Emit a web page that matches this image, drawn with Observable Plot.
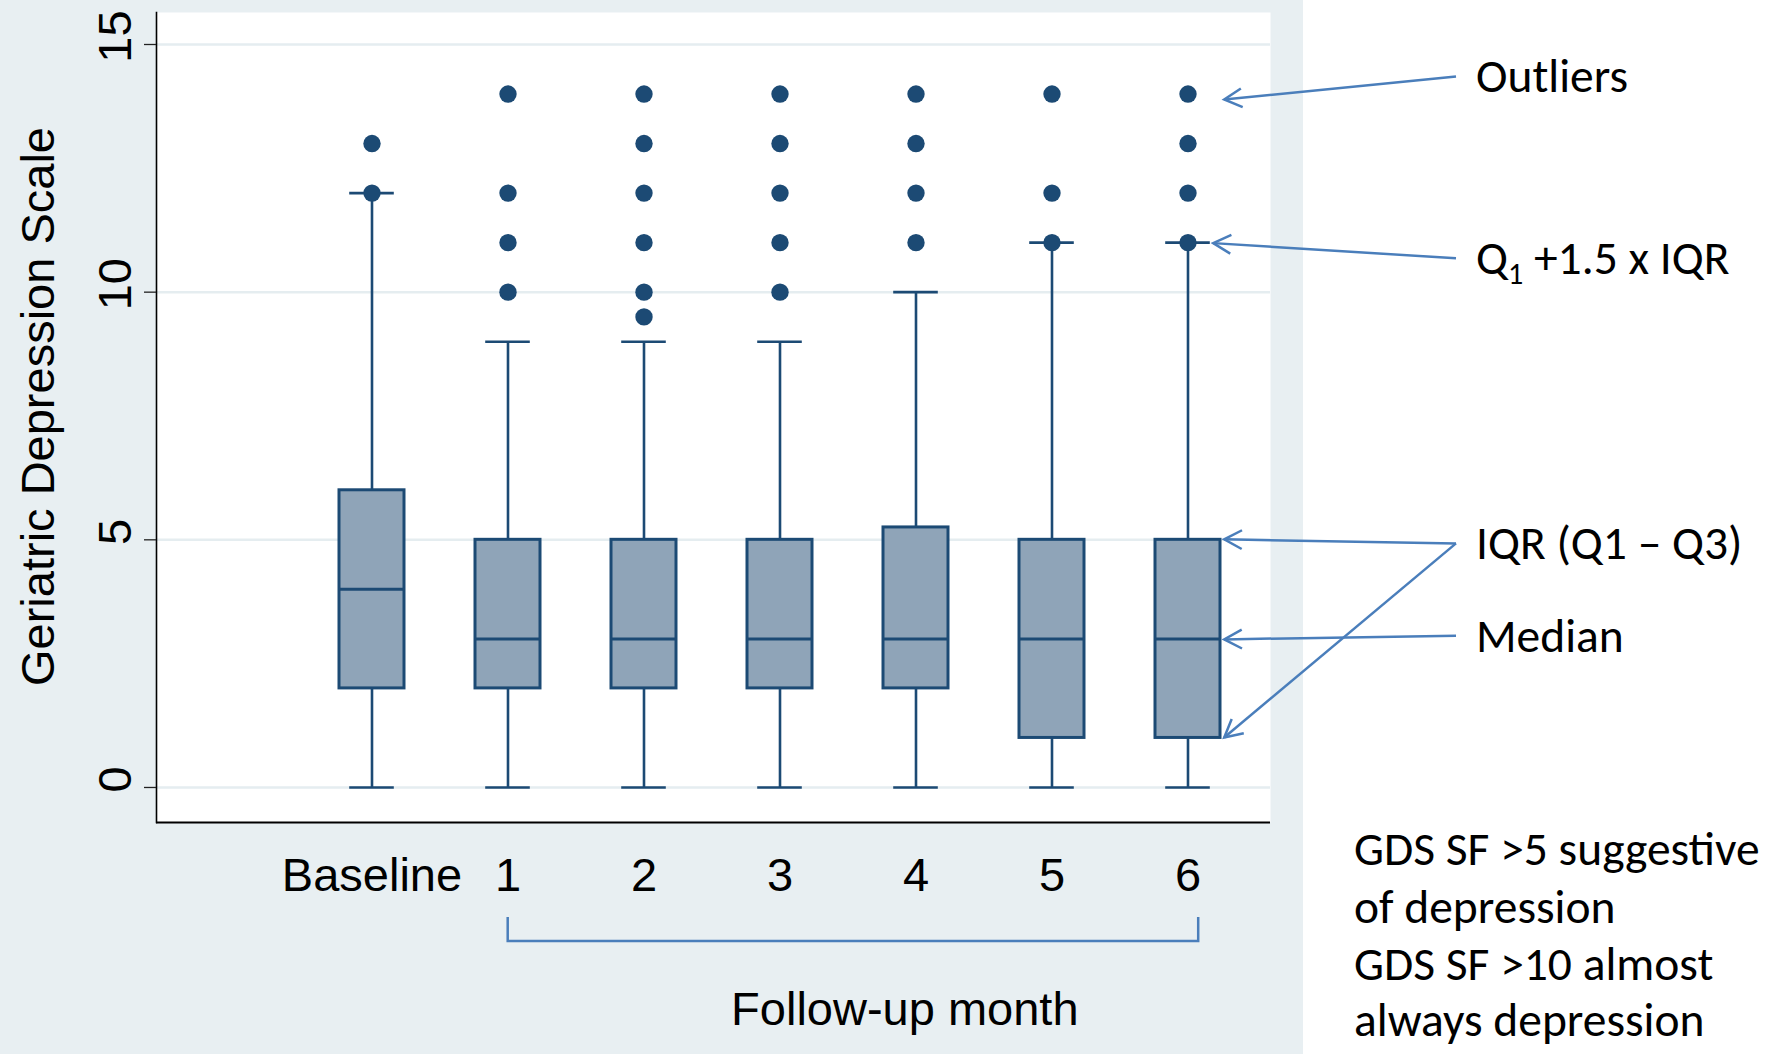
<!DOCTYPE html>
<html><head><meta charset="utf-8">
<script src="https://cdn.jsdelivr.net/npm/d3@7"></script>
<script src="https://cdn.jsdelivr.net/npm/@observablehq/plot@0.6"></script>
<style>
html,body{margin:0;padding:0;background:#fff;}
#wrap{position:relative;width:1771px;height:1054px;overflow:hidden;}
#bg{position:absolute;left:0;top:0;width:1303px;height:1054px;background:#e8eff2;}
#chart{position:absolute;left:0;top:0;}
</style></head><body>
<div id="wrap"><div id="bg"></div><div id="chart"></div></div>
<script>
// ---- data ----
const categories  = ["Baseline", "1", "2", "3", "4", "5", "6"];
const whiskerLow  = [0, 0, 0, 0, 0, 0, 0];
const q1          = [2, 2, 2, 2, 2, 1, 1];
const median      = [4, 3, 3, 3, 3, 3, 3];
const q3          = [6, 5, 5, 5, 5.25, 5, 5];
const whiskerHigh = [12, 9, 9, 9, 10, 11, 11];
const outliers = [
  [12, 13],
  [10, 11, 12, 14],
  [9.5, 10, 11, 12, 13, 14],
  [10, 11, 12, 13, 14],
  [11, 12, 13, 14],
  [11, 12, 14],
  [11, 12, 13, 14]
];
const yTicks = [0, 5, 10, 15];
const yLabel = "Geriatric Depression Scale";
const xLabel = "Follow-up month";
const notes = ["GDS SF >5 suggestive", "of depression", "GDS SF >10 almost", "always depression"];

// ---- tables for Plot ----
const stats = categories.map((c, i) => ({cat: c, lo: whiskerLow[i], q1: q1[i], med: median[i], q3: q3[i], hi: whiskerHigh[i]}));
const outlierPoints = categories.flatMap((c, i) => outliers[i].map(v => ({cat: c, v})));

// ---- styling / layout ----
const navy = "#1c4a74";
const boxFill = "#8fa4b8";
const annColor = "#4a7ebb";
const W = 1771, H = 1054;
const xRange = [303.55, 1256.25];
const padIn = 0.5224, padOut = 0.2612;
const yDomain = [-0.707, 15.646];

const plot = Plot.plot({
  width: W, height: H,
  marginLeft: 156, marginRight: 501, marginTop: 12, marginBottom: 232,
  style: {fontFamily: "'Liberation Sans', Arial, sans-serif", background: "transparent", color: "#000", overflow: "visible"},
  x: {type: "band", domain: categories, range: xRange, paddingInner: padIn, paddingOuter: padOut, align: 0.5, label: null},
  y: {domain: yDomain, label: null},
  marks: [
    Plot.frame({fill: "white", stroke: "none"}),
    Plot.gridY(yTicks, {stroke: "#e5edf0", strokeWidth: 2.5, strokeOpacity: 1}),
    Plot.frame({anchor: "left", stroke: "#000", strokeWidth: 1.6}),
    Plot.ruleY([yDomain[0]], {stroke: "#000", strokeWidth: 2}),
    Plot.axisY(yTicks, {tickSize: 12, tickFormat: () => "", label: null, stroke: "#222", strokeWidth: 1.3}),
    Plot.axisY(yTicks, {tickSize: 0, tickPadding: 26, tickRotate: -90, tickFormat: d => String(d), fontSize: 47, dy: -8, label: null}),
    Plot.axisX({tickSize: 0, tickPadding: 35.6, fontSize: 47, label: null}),
    Plot.ruleX(stats, {x: "cat", y1: "lo", y2: "hi", stroke: navy, strokeWidth: 2.6}),
    Plot.tickY(stats, {x: "cat", y: "lo", stroke: navy, strokeWidth: 2.6, insetLeft: 10.2, insetRight: 10.2}),
    Plot.tickY(stats, {x: "cat", y: "hi", stroke: navy, strokeWidth: 2.6, insetLeft: 10.2, insetRight: 10.2}),
    Plot.barY(stats, {x: "cat", y1: "q1", y2: "q3", fill: boxFill, stroke: navy, strokeWidth: 3}),
    Plot.tickY(stats, {x: "cat", y: "med", stroke: navy, strokeWidth: 3}),
    Plot.dot(outlierPoints, {x: "cat", y: "v", r: 8.7, fill: navy, stroke: "none"}),
    Plot.text([yLabel], {frameAnchor: "left", rotate: -90, textAnchor: "middle", lineAnchor: "bottom", dx: -103, dy: -11, fontSize: 47}),
    Plot.text([xLabel], {frameAnchor: "bottom-left", textAnchor: "start", lineAnchor: "bottom", dx: 574.6, dy: 202, fontSize: 47})
  ]
});
document.getElementById("chart").appendChild(plot);

// ---- annotations anchored through the same scales ----
const xb = d3.scaleBand(categories, xRange).paddingInner(padIn).paddingOuter(padOut).align(0.5);
const cx = c => xb(c) + xb.bandwidth() / 2;
const ys = plot.scale("y");
const yl = d3.scaleLinear(ys.domain, ys.range);
const last = categories.length - 1;
const lastCat = categories[last];

const svg = d3.select(plot);
const ann = svg.append("g").attr("class", "annotations");

const labelX = 1476, tailX = 1456;
const arrows = [
  {tip: [cx(lastCat) + 36, yl(14) + 6], tail: [tailX, 76.5]},
  {tip: [cx(lastCat) + 25, yl(whiskerHigh[last]) + 1], tail: [tailX, 258.3]},
  {tip: [cx(lastCat) + 36, yl(q3[last])], tail: [tailX, 543.4]},
  {tip: [cx(lastCat) + 36, yl(q1[last])], tail: [tailX, 543.4]},
  {tip: [cx(lastCat) + 36, yl(median[last]) + 1], tail: [tailX, 635.7]}
];
function headPath(tip, tail) {
  const dx = tail[0] - tip[0], dy = tail[1] - tip[1];
  const L = Math.hypot(dx, dy), ux = dx / L, uy = dy / L;
  const a = 28 * Math.PI / 180, len = 20;
  const w = s => [tip[0] + len * (ux * Math.cos(s * a) - uy * Math.sin(s * a)), tip[1] + len * (ux * Math.sin(s * a) + uy * Math.cos(s * a))];
  const w1 = w(1), w2 = w(-1);
  return `M${w1[0]},${w1[1]}L${tip[0]},${tip[1]}L${w2[0]},${w2[1]}`;
}
for (const a of arrows) {
  ann.append("line").attr("x1", a.tail[0]).attr("y1", a.tail[1]).attr("x2", a.tip[0]).attr("y2", a.tip[1])
    .attr("stroke", annColor).attr("stroke-width", 2.5);
  ann.append("path").attr("d", headPath(a.tip, a.tail)).attr("fill", "none")
    .attr("stroke", annColor).attr("stroke-width", 2.5).attr("stroke-linejoin", "miter");
}

const tg = ann.append("g").attr("font-family", "Carlito, Lato, sans-serif").attr("font-size", 47.5)
  .attr("fill", "#000").attr("text-anchor", "start");
tg.append("text").attr("x", labelX).attr("y", 91.8).text("Outliers");
const qt = tg.append("text").attr("x", labelX).attr("y", 273.6);
qt.append("tspan").text("Q");
qt.append("tspan").attr("font-size", 30).attr("dy", 10).text("1");
qt.append("tspan").attr("dy", -10).text(" +1.5 x IQR");
tg.append("text").attr("x", labelX).attr("y", 558.7).text("IQR (Q1 \u2013 Q3)");
tg.append("text").attr("x", labelX).attr("y", 651.7).text("Median");
const noteY = [865, 922.5, 980, 1036];
notes.forEach((t, i) => tg.append("text").attr("x", 1354).attr("y", noteY[i]).text(t));

// bracket under follow-up months
const bx1 = cx(categories[1]), bx2 = cx(lastCat) + 10;
ann.append("path").attr("d", `M${bx1},917V941H${bx2}V917`).attr("fill", "none")
  .attr("stroke", annColor).attr("stroke-width", 2.5);
</script>
</body></html>
